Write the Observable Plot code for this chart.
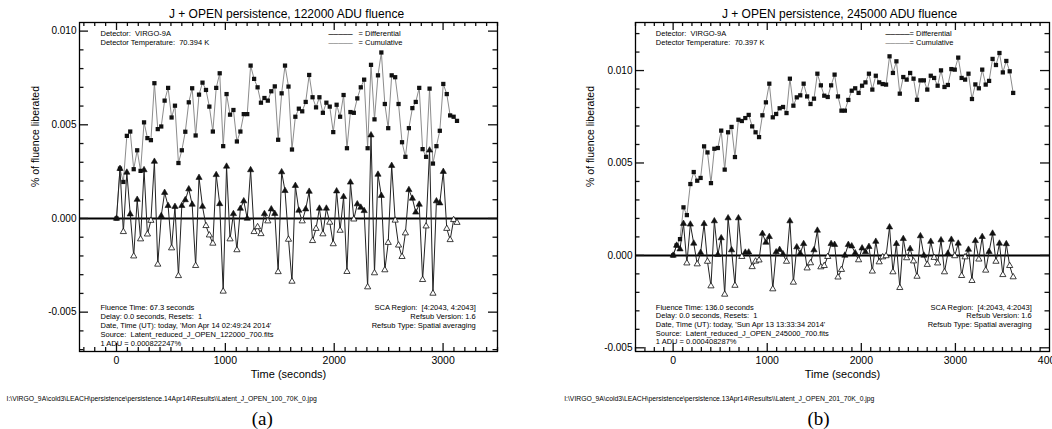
<!DOCTYPE html>
<html><head><meta charset="utf-8">
<script src="https://cdn.jsdelivr.net/npm/d3@7"></script>
<script src="https://cdn.jsdelivr.net/npm/@observablehq/plot@0.6"></script>
<style>
html,body{margin:0;padding:0;background:#fff;overflow:hidden;}
#wrap{display:flex;width:1052px;height:429px;}
#wrap > div{width:526px;height:429px;flex:none;}
svg{display:block}
</style></head><body><div id="wrap"><div id="pa"></div><div id="pb"></div></div>
<script>
// ---------- Panel (a) data ----------
const timesA = [0,32,63,95,126,158,190,221,253,284,316,348,379,411,442,474,506,537,569,600,632,664,695,727,758,790,822,853,885,916,948,980,1011,1043,1074,1106,1138,1169,1201,1232,1264,1296,1327,1359,1390,1422,1454,1485,1517,1548,1580,1612,1643,1675,1706,1738,1770,1801,1833,1864,1896,1928,1959,1991,2022,2054,2086,2117,2149,2180,2212,2244,2275,2307,2338,2370,2402,2433,2465,2496,2528,2560,2591,2623,2654,2686,2718,2749,2781,2812,2844,2876,2907,2939,2970,3002,3034,3065,3097,3128];
const cumulativeA = [0,0.00266,0.00195,0.00441,0.00464,0.00263,0.00364,0.00254,0.00513,0.00429,
 0.00418,0.00722,0.00477,0.00491,0.00629,0.00697,0.00539,0.00602,0.00296,0.00364,
 0.00463,0.0062,0.00695,0.00443,0.00661,0.00725,0.00686,0.00597,0.00464,0.00697,
 0.00775,0.00386,0.00664,0.00554,0.00579,0.00411,0.00464,0.00557,0.00557,0.00816,
 0.00745,0.007,0.00618,0.00643,0.00629,0.00679,0.00705,0.0042,0.00668,0.00816,
 0.00704,0.00368,0.00543,0.00586,0.00572,0.00622,0.00766,0.00647,0.00593,0.00647,
 0.00564,0.00618,0.00597,0.00461,0.00607,0.00543,0.00659,0.00375,0.00568,0.00564,
 0.00641,0.007,0.00741,0.00375,0.0082,0.00529,0.00764,0.00886,0.00611,0.00482,
 0.00764,0.00754,0.00611,0.00407,0.00329,0.00482,0.00589,0.00622,0.00697,0.0037,
 0.00329,0.00693,0.00293,0.00386,0.00468,0.00718,0.00664,0.0055,0.00543,0.00521];
const differentialA = [0,0.00266,-0.00071,0.00246,0.00023,-0.00201,0.00101,-0.0011,0.00259,-0.00084,
 -0.00011,0.00304,-0.00245,0.00014,0.00138,0.00068,-0.00158,0.00063,-0.00306,0.00068,
 0.00099,0.00157,0.00075,-0.00252,0.00218,0.00064,-0.00039,-0.00089,-0.00133,0.00233,
 0.00078,-0.00389,0.00278,-0.0011,0.00025,-0.00168,0.00053,0.00093,0,0.00259,
 -0.00071,-0.00045,-0.00082,0.00025,-0.00014,0.0005,0.00026,-0.00285,0.00248,0.00148,
 -0.00112,-0.00336,0.00175,0.00043,-0.00014,0.0005,0.00144,-0.00119,-0.00054,0.00054,
 -0.00083,0.00054,-0.00021,-0.00136,0.00146,-0.00064,0.00116,-0.00284,0.00193,-0.00004,
 0.00077,0.00059,0.00041,-0.00366,0.00445,-0.00291,0.00235,0.00122,-0.00275,-0.00129,
 0.00282,-0.0001,-0.00143,-0.00204,-0.00078,0.00153,0.00107,0.00033,0.00075,-0.00327,
 -0.00041,0.00364,-0.004,0.00093,0.00082,0.0025,-0.00054,-0.00114,-0.00007,-0.00022];

// ---------- Panel (b) data ----------
const timesB = [0,37,73,110,146,183,219,256,292,329,365,402,438,475,511,548,584,621,657,694,730,767,803,840,876,913,949,986,1022,1059,1095,1132,1168,1205,1241,1278,1314,1351,1387,1424,1460,1497,1533,1570,1606,1643,1679,1716,1752,1789,1825,1862,1898,1935,1971,2008,2044,2081,2117,2154,2190,2227,2263,2300,2336,2373,2409,2446,2482,2519,2555,2592,2628,2665,2701,2738,2774,2811,2847,2884,2920,2957,2993,3030,3066,3103,3139,3176,3212,3249,3285,3322,3358,3395,3431,3468,3504,3541,3577,3614];
const cumulativeB = [0,0.00054,0.00088,0.0026,0.00218,0.00386,0.00451,0.00404,0.00419,0.0059,
 0.00557,0.00391,0.00577,0.00581,0.00675,0.00464,0.00666,0.00695,0.00532,0.00734,
 0.00727,0.00743,0.0076,0.00698,0.00666,0.0064,0.00758,0.00828,0.00929,0.00747,
 0.00765,0.00796,0.00803,0.0077,0.00956,0.0081,0.00855,0.00866,0.00929,0.0086,
 0.00819,0.00848,0.00983,0.0092,0.00864,0.00857,0.0092,0.00978,0.0086,0.00783,
 0.00783,0.00841,0.00891,0.00904,0.00879,0.00918,0.00936,0.00983,0.00897,0.00972,
 0.00936,0.00927,0.00924,0.01077,0.00987,0.0105,0.00875,0.00965,0.00951,0.00987,
 0.00956,0.00842,0.00947,0.00947,0.00897,0.00972,0.0096,0.00918,0.01001,0.00911,
 0.00922,0.01008,0.01005,0.0107,0.0096,0.00951,0.00983,0.00846,0.00925,0.00904,
 0.01005,0.00924,0.00944,0.01063,0.0103,0.01095,0.0099,0.01052,0.00996,0.00879];
const differentialB = [0,0.00054,0.00034,0.00172,-0.00042,0.00168,0.00065,-0.00047,0.00015,0.00171,
 -0.00033,-0.00166,0.00186,0.00004,0.00094,-0.00211,0.00202,0.00029,-0.00163,0.00202,
 -0.00007,0.00016,0.00017,-0.00062,-0.00032,-0.00026,0.00118,0.0007,0.00101,-0.00182,
 0.00018,0.00031,0.00007,-0.00033,0.00186,-0.00146,0.00045,0.00011,0.00063,-0.00069,
 -0.00041,0.00029,0.00135,-0.00063,-0.00056,-0.00007,0.00063,0.00058,-0.00118,-0.00077,
 0,0.00058,0.0005,0.00013,-0.00025,0.00039,0.00018,0.00047,-0.00086,0.00075,
 -0.00036,-0.00009,-0.00003,0.00153,-0.0009,0.00063,-0.00175,0.0009,-0.00014,0.00036,
 -0.00031,-0.00114,0.00105,0,-0.0005,0.00075,-0.00012,-0.00042,0.00083,-0.0009,
 0.00011,0.00086,-0.00003,0.00065,-0.0011,-0.00009,0.00032,-0.00137,0.00079,-0.00021,
 0.00101,-0.00081,0.0002,0.00119,-0.00033,0.00065,-0.00105,0.00062,-0.00056,-0.00117];

// ---------- ticks & texts ----------
const xTicksA = [0, 1000, 2000, 3000];
const xTicksB = [0, 1000, 2000, 3000, 4000];
const yTicks = [-0.005, 0, 0.005, 0.010];
const titleA = "J + OPEN persistence, 122000 ADU fluence";
const titleB = "J + OPEN persistence, 245000 ADU fluence";
const xLabel = "Time (seconds)";
const yLabel = "% of fluence liberated";
const legendLabels = ["= Differential", "= Cumulative"];
const headerA = ["Detector:  VIRGO-9A", "Detector Temperature:  70.394 K"];
const headerB = ["Detector:  VIRGO-9A", "Detector Temperature:  70.397 K"];
const infoA = ["Fluence Time: 67.3 seconds", "Delay: 0.0 seconds, Resets:  1", "Date, Time (UT): today, 'Mon Apr 14 02:49:24 2014'", "Source:  Latent_reduced_J_OPEN_122000_700.fits", "1 ADU = 0.000822247%"];
const infoB = ["Fluence Time: 136.0 seconds", "Delay: 0.0 seconds, Resets:  1", "Date, Time (UT): today, 'Sun Apr 13 13:33:34 2014'", "Source:  Latent_reduced_J_OPEN_245000_700.fits", "1 ADU = 0.000408287%"];
const scaInfo = ["SCA Region:  [4:2043, 4:2043]", "Refsub Version: 1.6", "Refsub Type: Spatial averaging"];
const pathA = "I:\\VIRGO_9A\\cold3\\LEACH\\persistence\\persistence.14Apr14\\Results\\\\Latent_J_OPEN_100_70K_0.jpg";
const pathB = "I:\\VIRGO_9A\\cold3\\LEACH\\persistence\\persistence.13Apr14\\Results\\\\Latent_J_OPEN_201_70K_0.jpg";
const captionA = "(a)";
const captionB = "(b)";

function T(txt, opts) {
  return Plot.text([txt], {text: d => d, fontSize: 7.5, fill: "black", lineAnchor: "middle", ...opts});
}

function panel(o) {
  const W = 526, H = 429, mt = 22, mb = 78;
  const plotW = W - o.marginLeft - o.marginRight, plotH = H - mt - mb;
  const [x0, x1] = o.xDomain, [y0, y1] = o.yDomain;
  const px = (x1 - x0) / plotW, py = (y1 - y0) / plotH; // data units per pixel
  const rows = o.times.map((t, i) => ({time: t, cumulative: o.cum[i], differential: o.diff[i]}));
  const xMinor = d3.range(Math.ceil(x0 / 100), Math.floor(x1 / 100) + 1).map(d => d * 100).filter(d => !o.xTicks.includes(d));
  const yMinor = d3.range(Math.ceil(y0 * 1000 - 1e-9), Math.floor(y1 * 1000 + 1e-9) + 1).filter(d => d % 5 !== 0).map(d => d / 1000);
  const xMajor = o.xTicks.filter(d => d < x1);
  const tickRows = (vals, lo, hi) => vals.flatMap(v => [{v, a: lo, b: lo + hi}, {v, a: -1, b: -1}]);
  const tickX = (vals, len) => [
    Plot.ruleX(vals.map(v => ({v, a: y0, b: y0 + len * py})), {x: "v", y1: "a", y2: "b", stroke: "#111", strokeWidth: 1.3}),
    Plot.ruleX(vals.map(v => ({v, a: y1 - len * py, b: y1})), {x: "v", y1: "a", y2: "b", stroke: "#111", strokeWidth: 1.3})
  ];
  const tickY = (vals, len) => [
    Plot.ruleY(vals.map(v => ({v, a: x0, b: x0 + len * px})), {y: "v", x1: "a", x2: "b", stroke: "#111", strokeWidth: 1.3}),
    Plot.ruleY(vals.map(v => ({v, a: x1 - len * px, b: x1})), {y: "v", x1: "a", x2: "b", stroke: "#111", strokeWidth: 1.3})
  ];
  const marks = [
    Plot.ruleY([0], {stroke: "black", strokeWidth: 2}),
    Plot.line(rows, {x: "time", y: "cumulative", stroke: "#8c8c8c", strokeWidth: 1}),
    Plot.line(rows, {x: "time", y: "differential", stroke: "#222", strokeWidth: 1}),
    Plot.dot(rows, {x: "time", y: "cumulative", symbol: "square", r: 2.4, fill: "#111"}),
    Plot.dot(rows.filter(d => d.differential >= 0), {x: "time", y: "differential", symbol: "triangle", r: 2.3, fill: "#111", stroke: "#111", strokeWidth: 0.6}),
    Plot.dot(rows.filter(d => d.differential < 0), {x: "time", y: "differential", symbol: "triangle", r: 2.3, fill: "white", stroke: "#111", strokeWidth: 0.8}),
    // inward ticks
    ...tickX(xMinor, 4), ...tickX(xMajor, 8),
    ...tickY(yMinor, 4.5), ...tickY(yTicks, 9),
    Plot.frame({stroke: "black", strokeWidth: 1.3}),
    // tick labels
    Plot.axisX(o.xTicks, {anchor: "bottom", tickSize: 0, tickPadding: 5, tickFormat: d => `${d}`, fontSize: 10.5, label: null}),
    Plot.axisY(yTicks, {anchor: "left", tickSize: 0, tickPadding: 3, tickFormat: d => d.toFixed(3), fontSize: 10, label: null}),
    // titles
    T(o.title, {frameAnchor: "top", dx: o.titleDx, dy: -8, fontSize: 12}),
    T(xLabel, {frameAnchor: "bottom", dy: 23, fontSize: 11}),
    T(yLabel, {frameAnchor: "left", dx: o.yLabelDx, rotate: -90, fontSize: 10.5}),
    // header
    ...o.header.map((h, i) => T(h, {frameAnchor: "top-left", textAnchor: "start", dx: o.infoDx, dy: 11.5 + i * 9})),
    // legend
    T("\u2500\u2500\u2500\u2500\u2500", {frameAnchor: "top-right", textAnchor: "start", dx: o.legendLineDx, dy: 11.5, fontFamily: "DejaVu Sans", fontSize: 8, fill: "#111"}),
    T("\u2500\u2500\u2500\u2500\u2500", {frameAnchor: "top-right", textAnchor: "start", dx: o.legendLineDx, dy: 20.5, fontFamily: "DejaVu Sans", fontSize: 8, fill: "#888"}),
    ...legendLabels.map((h, i) => T(h, {frameAnchor: "top-right", textAnchor: "start", dx: o.legendTextDx, dy: 11.5 + i * 9})),
    // info blocks
    ...o.info.map((h, i) => T(h, {frameAnchor: "bottom-left", textAnchor: "start", dx: o.infoDx, dy: -44.3 + i * o.infoStep})),
    ...scaInfo.map((h, i) => T(h, {frameAnchor: "bottom-right", textAnchor: "end", dx: o.scaDx, dy: -44.3 + i * o.infoStep})),
    // path and caption
    T(o.path, {frameAnchor: "bottom-left", textAnchor: "start", dx: o.pathDx, dy: 47.3, fontSize: 6.8}),
    T(o.caption, {frameAnchor: "bottom", dx: o.captionDx, dy: 67.5, fontFamily: "Liberation Serif, Times New Roman, serif", fontSize: 19})
  ];
  return Plot.plot({
    width: W, height: H,
    marginTop: mt, marginBottom: mb, marginLeft: o.marginLeft, marginRight: o.marginRight,
    x: {domain: o.xDomain, label: null},
    y: {domain: o.yDomain, label: null},
    style: {fontFamily: "Liberation Sans, Arial, sans-serif", fontSize: "10px", background: "white", color: "black"},
    marks
  });
}

document.getElementById("pa").appendChild(panel({
  times: timesA, cum: cumulativeA, diff: differentialA,
  xDomain: [-340, 3500], yDomain: [-0.0071, 0.01046], xTicks: xTicksA,
  marginLeft: 79, marginRight: 29,
  title: titleA, titleDx: -2, yLabelDx: -44,
  header: headerA, info: infoA, infoDx: 21, infoStep: 9.0, scaDx: -21.7,
  legendLineDx: -169, legendTextDx: -139,
  path: pathA, pathDx: -73, caption: captionA, captionDx: -26.3
}));
document.getElementById("pb").appendChild(panel({
  times: timesB, cum: cumulativeB, diff: differentialB,
  xDomain: [-400, 4000], yDomain: [-0.0052, 0.0126], xTicks: xTicksB,
  marginLeft: 109, marginRight: 3,
  title: titleB, titleDx: -3, yLabelDx: -45,
  header: headerB, info: infoB, infoDx: 20.3, infoStep: 8.7, scaDx: -17.7,
  legendLineDx: -164, legendTextDx: -140,
  path: pathB, pathDx: -71.3, caption: captionB, captionDx: -24
}));
</script>
</body></html>
